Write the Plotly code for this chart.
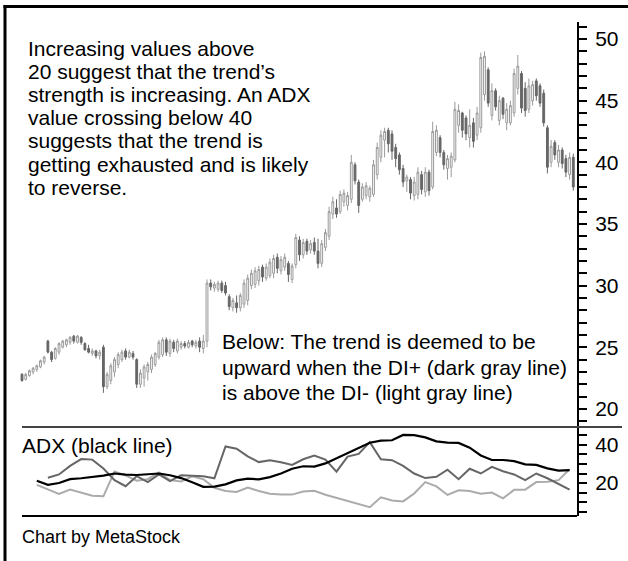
import plotly.graph_objects as go

# ---------------- data ----------------
OPEN = [22.8, 22.4, 22.7, 23.0, 23.2, 23.4, 23.8, 25.5, 24.6, 24.1,
        24.6, 25.0, 25.2, 25.4, 25.9, 25.4, 25.8, 25.3, 24.9, 24.5,
        24.7, 24.3, 25.0, 21.8, 22.3, 23.0, 23.6, 24.0, 24.7, 24.2,
        24.5, 24.0, 22.0, 22.5, 23.0, 23.2, 23.6, 24.2, 24.4, 25.6,
        24.5, 25.4, 24.7, 25.0, 25.3, 25.0, 25.5, 25.1, 25.5, 24.9,
        25.5, 30.2, 29.8, 29.7, 30.2, 30.0, 29.1, 28.2, 28.6, 28.2,
        28.5, 28.8, 30.0, 30.1, 30.4, 31.5, 30.6, 30.8, 31.0, 32.3,
        31.2, 31.5, 31.8, 30.5, 31.7, 33.7, 32.5, 33.6, 32.9, 33.5,
        32.8, 31.8, 33.1, 34.0, 35.8, 36.3, 36.0, 36.8, 36.5, 37.0,
        39.8, 38.4, 37.0, 37.3, 37.2, 37.4, 39.0, 40.4, 41.8, 42.6,
        42.3, 41.2, 40.6, 39.5, 38.5, 38.6, 37.3, 37.4, 39.0, 37.6,
        39.2, 38.0, 40.8, 42.0, 40.8, 39.5, 39.6, 40.2, 43.0, 44.0,
        43.6, 42.0, 43.2, 42.2, 42.8, 45.5, 47.5, 43.8, 45.8, 43.4,
        45.2, 43.2, 43.2, 44.0, 46.0, 47.2, 46.0, 44.3, 45.0, 46.6,
        46.2, 45.6, 42.8, 40.0, 41.6, 40.0, 41.0, 40.3, 39.0, 40.4]
HIGH = [22.9, 22.9, 23.2, 23.4, 23.6, 24.0, 24.3, 25.6, 24.7, 25.0,
        25.4, 25.6, 25.7, 25.9, 26.0, 26.0, 25.9, 25.4, 25.2, 24.9,
        24.8, 24.8, 25.2, 23.0, 23.7, 24.2, 24.6, 24.8, 24.9, 24.8,
        24.7, 24.1, 23.2, 23.6, 23.8, 24.4, 24.6, 25.6, 25.8, 25.8,
        25.7, 25.6, 25.7, 25.5, 25.5, 25.6, 25.6, 25.6, 25.8, 26.0,
        30.5, 30.5, 30.3, 30.4, 30.4, 30.3, 29.3, 29.0, 29.2, 29.4,
        30.5, 30.9, 31.3, 31.5, 31.6, 31.7, 31.8, 32.2, 32.5, 32.6,
        32.4, 32.6, 32.0, 31.8, 34.2, 34.0, 33.8, 33.8, 33.7, 33.9,
        33.8, 33.7, 34.6, 36.4, 37.2, 37.0, 37.7, 37.8, 37.6, 40.6,
        40.0, 38.6, 38.3, 38.4, 38.1, 40.2, 41.6, 42.6, 42.8, 42.8,
        42.6, 41.5, 40.8, 39.8, 39.0, 38.8, 38.8, 39.6, 39.3, 39.6,
        39.4, 43.3, 43.0, 42.2, 41.0, 40.6, 40.8, 44.9, 44.7, 44.1,
        43.8, 44.3, 43.6, 44.5, 48.9, 49.0, 47.7, 46.4, 46.0, 45.4,
        45.3, 44.8, 45.0, 47.6, 48.7, 47.4, 46.5, 46.8, 46.6, 46.8,
        46.4, 45.9, 43.0, 41.8, 41.8, 41.4, 41.2, 40.6, 40.8, 40.7]
LOW = [22.2, 22.3, 22.6, 22.8, 23.0, 23.3, 23.6, 24.5, 23.8, 24.0,
       24.4, 24.9, 25.0, 25.2, 25.3, 25.3, 25.2, 24.7, 24.5, 24.3,
       24.1, 24.0, 21.3, 21.6, 22.0, 22.6, 23.3, 23.8, 24.0, 24.1,
       24.0, 21.7, 21.7, 21.8, 22.3, 22.9, 23.4, 24.0, 24.2, 24.3,
       24.2, 24.6, 24.5, 24.8, 24.9, 24.9, 25.0, 24.9, 24.6, 24.5,
       25.0, 29.6, 29.5, 29.5, 29.4, 29.2, 28.0, 27.9, 27.8, 27.9,
       28.2, 28.4, 29.7, 29.8, 30.0, 30.3, 30.4, 30.6, 30.6, 31.0,
       30.9, 31.2, 30.3, 30.2, 31.4, 32.0, 32.2, 32.5, 32.6, 32.5,
       31.4, 31.5, 32.8, 33.7, 35.4, 35.5, 35.8, 36.4, 36.1, 36.7,
       38.2, 35.9, 36.8, 37.0, 36.8, 37.2, 38.6, 40.0, 40.4, 40.8,
       40.2, 39.6, 39.0, 38.0, 37.6, 37.0, 36.9, 37.0, 37.4, 37.2,
       37.3, 37.8, 40.5, 40.4, 39.4, 38.6, 38.8, 40.0, 42.4, 42.0,
       41.8, 41.2, 41.2, 41.8, 42.4, 45.0, 44.5, 43.4, 44.2, 43.0,
       43.5, 42.6, 43.0, 43.7, 45.5, 44.0, 43.7, 44.0, 44.6, 45.0,
       44.5, 42.9, 39.1, 39.6, 40.2, 39.6, 39.5, 38.8, 38.6, 37.7]
CLOSE = [22.3, 22.8, 23.1, 23.3, 23.5, 23.9, 24.2, 24.6, 24.0, 24.9,
         25.3, 25.5, 25.6, 25.8, 25.5, 25.9, 25.4, 24.8, 24.6, 24.7,
         24.3, 24.6, 21.8, 22.8, 23.5, 24.0, 24.4, 24.6, 24.2, 24.6,
         24.2, 22.0, 22.9, 23.4, 23.6, 24.2, 24.5, 25.4, 25.6, 24.6,
         25.5, 24.9, 25.5, 25.3, 25.1, 25.4, 25.2, 25.4, 25.0, 25.5,
         30.2, 29.9, 30.1, 30.2, 29.6, 29.4, 28.3, 28.8, 28.2, 29.2,
         30.2, 30.6, 31.0, 31.2, 31.3, 30.7, 31.5, 31.9, 32.2, 31.4,
         32.1, 32.3, 30.9, 31.6, 33.9, 32.5, 33.5, 32.8, 33.4, 32.8,
         31.8, 33.4, 34.3, 36.0, 36.8, 35.8, 37.4, 37.5, 37.3, 40.0,
         38.5, 36.5, 38.0, 38.1, 37.9, 39.8, 41.2, 42.2, 42.5, 41.5,
         40.9, 40.3, 39.4, 38.4, 38.8, 37.5, 38.4, 39.2, 37.8, 39.2,
         37.7, 42.5, 42.6, 40.8, 39.8, 40.3, 40.5, 44.3, 44.2, 42.6,
         42.3, 43.0, 41.7, 44.0, 48.5, 48.6, 44.8, 45.8, 44.5, 45.0,
         43.9, 44.3, 44.6, 47.2, 47.8, 44.4, 44.2, 46.2, 46.3, 45.4,
         44.8, 43.2, 39.6, 41.3, 40.6, 41.0, 39.9, 39.2, 40.4, 38.0]
BARS = list(range(len(CLOSE)))

ADX_IDX = [4, 7, 10, 13, 16, 19, 22, 25, 28, 31, 34, 37, 40, 43, 46, 49, 52,
           55, 58, 61, 64, 67, 70, 73, 76, 79, 82, 85, 88, 91, 94, 97, 100,
           103, 106, 109, 112, 115, 118, 121, 124, 127, 130, 133, 136, 139,
           142, 145, 148]
ADX = [21.2, 19.0, 20.0, 22.0, 22.5, 23.1, 23.9, 25.0, 24.4, 24.2, 24.6, 25.0,
       24.1, 22.6, 20.4, 18.0, 18.1, 19.3, 21.4, 22.3, 21.9, 23.1, 25.0, 27.5,
       28.8, 28.6, 30.3, 33.0, 35.8, 38.6, 41.2, 42.3, 42.5, 45.3, 45.2, 44.0,
       41.9, 41.2, 41.1, 38.6, 34.5, 32.1, 32.1, 31.5, 29.8, 29.5, 27.7, 26.5,
       26.8]
DI_PLUS = [None, 22.8, 24.5, 29.0, 32.6, 32.3, 27.6, 21.5, 18.3, 23.6, 20.5,
           24.5, 21.0, 24.1, 23.9, 23.6, 22.5, 39.2, 38.0, 34.0, 31.0, 31.9,
           30.9, 29.5, 32.5, 34.5, 32.3, 26.0, 33.9, 35.3, 41.5, 32.5, 32.0,
           29.0, 25.0, 22.6, 23.3, 27.0, 22.0, 27.5, 25.0, 28.5, 26.2, 24.5,
           21.5, 25.0, 22.5, 19.3, 16.5]
DI_MINUS = [19.0, 16.4, 14.2, 16.5, 14.8, 13.3, 13.0, 26.0, 24.0, 21.2, 22.0,
            25.5, 21.5, 20.8, 23.5, 22.0, 17.5, 15.8, 15.3, 17.6, 15.8, 14.3,
            14.0, 13.9, 15.5, 15.9, 13.8, 12.2, 10.5, 8.8, 7.3, 12.5, 10.8,
            10.3, 14.5, 20.5, 18.2, 13.7, 16.2, 15.8, 14.3, 15.0, 11.9, 16.4,
            16.5, 20.5, 20.7, 21.5, 27.2]

PRICE_TICKS = [20, 25, 30, 35, 40, 45, 50]
ADX_TICKS = [20, 40]

TEXT_TOP = ["Increasing values above",
            "20 suggest that the trend\u2019s",
            "strength is increasing. An ADX",
            "value crossing below 40",
            "suggests that the trend is",
            "getting exhausted and is likely",
            "to reverse."]
TEXT_BELOW = ["Below: The trend is deemed to be",
              "upward when the DI+ (dark gray line)",
              "is above the DI- (light gray line)"]

# ---------------- figure ----------------
W, H = 628, 561
FONT = "Liberation Sans, Arial, Helvetica, sans-serif"


def px(x):
    return x / W


def py(y):
    return 1 - y / H


fig = go.Figure()
fig.add_trace(go.Candlestick(
    x=BARS, open=OPEN, high=HIGH, low=LOW, close=CLOSE,
    increasing=dict(line=dict(color="#9a9a9a", width=1), fillcolor="white"),
    decreasing=dict(line=dict(color="#666666", width=1), fillcolor="#666666"),
    whiskerwidth=0, xaxis="x", yaxis="y", hoverinfo="skip"))

fig.add_trace(go.Scatter(x=ADX_IDX, y=DI_MINUS, mode="lines", yaxis="y2",
                         line=dict(color="#ababab", width=2), hoverinfo="skip"))
fig.add_trace(go.Scatter(x=ADX_IDX, y=DI_PLUS, mode="lines", yaxis="y2",
                         line=dict(color="#666666", width=2), hoverinfo="skip"))
fig.add_trace(go.Scatter(x=ADX_IDX, y=ADX, mode="lines", yaxis="y2",
                         line=dict(color="black", width=2.2), hoverinfo="skip"))

axis_common = dict(side="right", anchor="x", showline=True, linecolor="black",
                   linewidth=2, ticks="outside", ticklen=8, tickwidth=1.5,
                   tickcolor="black", showgrid=False, zeroline=False,
                   ticklabelstandoff=4,
                   tickfont=dict(size=21, color="black", family=FONT),
                   fixedrange=True)

fig.update_layout(
    width=W, height=H, margin=dict(l=0, r=0, t=0, b=0),
    paper_bgcolor="white", plot_bgcolor="rgba(0,0,0,0)", showlegend=False,
    xaxis=dict(domain=[px(20), px(577)], range=[-0.54, 150], visible=False,
               rangeslider=dict(visible=False), fixedrange=True),
    yaxis=dict(domain=[py(427), py(22)], range=[18.53, 51.38],
               tickvals=PRICE_TICKS,
               minor=dict(dtick=1, tick0=0, ticks="outside", ticklen=8,
                          tickwidth=1.5, tickcolor="black", showgrid=False),
               **axis_common),
    yaxis2=dict(domain=[py(516), py(427)], range=[2.63, 49.47],
                tickvals=ADX_TICKS,
                minor=dict(dtick=5, tick0=0, ticks="outside", ticklen=8,
                           tickwidth=1.5, tickcolor="black", showgrid=False),
                **axis_common),
)

shapes = [
    dict(type="line", xref="paper", yref="paper", x0=px(3.5), x1=1,
         y0=py(6.5), y1=py(6.5), line=dict(color="black", width=3)),
    dict(type="line", xref="paper", yref="paper", x0=px(5), x1=px(5),
         y0=0, y1=py(5), line=dict(color="black", width=3)),
    dict(type="line", xref="paper", yref="paper", x0=px(22), x1=px(622),
         y0=py(427), y1=py(427), line=dict(color="#444444", width=2)),
    dict(type="line", xref="paper", yref="paper", x0=px(22), x1=px(577),
         y0=py(516), y1=py(516), line=dict(color="black", width=2)),
]
fig.update_layout(shapes=shapes)

annotations = []
top_y = [48.5, 71.6, 94.7, 117.8, 140.9, 164.0, 187.1]
for t, yy in zip(TEXT_TOP, top_y):
    annotations.append(dict(text=t, x=px(26), y=py(yy), xref="paper",
                            yref="paper", xanchor="left", yanchor="middle",
                            showarrow=False,
                            font=dict(size=21, color="black", family=FONT)))
below_y = [341.5, 367, 392.5]
for t, yy in zip(TEXT_BELOW, below_y):
    annotations.append(dict(text=t, x=px(220), y=py(yy), xref="paper",
                            yref="paper", xanchor="left", yanchor="middle",
                            showarrow=False,
                            font=dict(size=21, color="black", family=FONT)))
annotations.append(dict(text="ADX (black line)", x=px(20), y=py(445.5),
                        xref="paper", yref="paper", xanchor="left",
                        yanchor="middle", showarrow=False,
                        font=dict(size=21, color="black", family=FONT)))
annotations.append(dict(text="Chart by MetaStock", x=px(20), y=py(537),
                        xref="paper", yref="paper", xanchor="left",
                        yanchor="middle", showarrow=False,
                        font=dict(size=18, color="black", family=FONT)))
fig.update_layout(annotations=annotations)

fig.write_html("out.html", config={"displayModeBar": False},
               post_script="document.body.style.margin='0';")
